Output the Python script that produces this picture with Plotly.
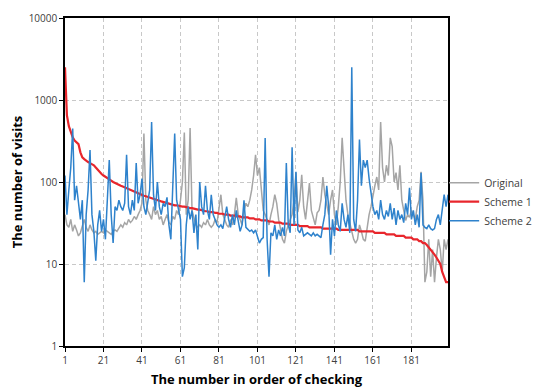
import plotly.graph_objects as go

x_vals = list(range(1, 201))

original = [
    40, 30, 28, 35, 25, 30, 26, 22, 24, 30,
    35, 28, 25, 30, 26, 24, 25, 23, 24, 25,
    24, 26, 25, 24, 23, 25, 26, 25, 27, 30,
    28, 32, 30, 35, 32, 34, 38, 35, 40, 45,
    55, 390, 60, 45, 40, 35, 50, 40, 45, 35,
    38, 30, 35, 40, 32, 30, 38, 35, 45, 40,
    60, 100, 400, 40, 60, 455, 45, 35, 30, 28,
    30, 28, 32, 30, 35, 30, 28, 30, 35, 32,
    45, 70, 40, 35, 30, 28, 35, 30, 40, 64,
    40, 35, 30, 45, 55, 50, 60, 80, 120, 215,
    120, 150, 80, 45, 40, 35, 30, 40, 50, 70,
    55, 35, 25, 20, 18, 25, 30, 35, 40, 60,
    130, 43, 60, 122, 50, 35, 60, 97, 45, 35,
    30, 42, 45, 60, 115, 70, 50, 40, 60, 80,
    40, 30, 50, 100, 345, 120, 60, 40, 30, 25,
    20, 18, 20, 30, 25, 20, 19, 30, 40, 50,
    70, 90, 115, 80, 540, 150, 100, 160, 120, 345,
    270, 100, 130, 80, 160, 60, 45, 34, 40, 37,
    45, 40, 35, 50, 60, 133, 60, 6, 8, 20,
    7, 15, 6, 12, 20, 15, 8, 20, 15, 20,
]

scheme1 = [
    2500, 650, 480, 400, 350, 320, 300, 290, 230, 200,
    190, 180, 175, 170, 165, 160, 150, 140, 130, 125,
    120, 115, 112, 108, 104, 100, 97, 95, 92, 90,
    88, 86, 84, 82, 80, 78, 76, 74, 72, 70,
    69, 68, 67, 66, 65, 63, 62, 61, 60, 59,
    58, 57, 56, 56, 55, 54, 53, 52, 52, 51,
    51, 50, 50, 49, 49, 48, 48, 47, 47, 46,
    46, 45, 45, 44, 44, 43, 43, 43, 42, 42,
    41, 41, 41, 40, 40, 40, 39, 39, 39, 38,
    38, 38, 37, 37, 37, 37, 36, 36, 36, 35,
    35, 35, 34, 34, 34, 34, 33, 33, 33, 32,
    32, 32, 32, 31, 31, 31, 31, 30, 30, 30,
    30, 30, 29, 29, 29, 29, 29, 28, 28, 28,
    28, 28, 28, 28, 27, 27, 27, 27, 27, 27,
    27, 27, 26, 26, 26, 26, 26, 26, 26, 26,
    26, 26, 26, 25, 25, 25, 25, 25, 25, 25,
    25, 24, 24, 24, 24, 24, 24, 23, 23, 23,
    23, 23, 22, 22, 22, 22, 22, 21, 21, 21,
    21, 20, 20, 20, 19, 19, 18, 18, 17, 16,
    15, 14, 13, 12, 11, 10, 8, 7, 6, 6,
]

scheme2 = [
    120, 40, 80, 150, 450, 60, 90, 55, 35, 60,
    6, 40, 80, 245, 40, 25, 11, 30, 45, 25,
    35, 20, 60, 185, 40, 18, 50, 45, 60, 50,
    45, 55, 215, 50, 40, 60, 45, 170, 55, 70,
    110, 50, 40, 60, 80, 540, 70, 45, 100, 50,
    40, 55, 50, 65, 30, 20, 80, 390, 60, 45,
    35, 7, 9, 30, 50, 35, 45, 24, 40, 15,
    100, 50, 40, 90, 45, 35, 70, 40, 35, 30,
    28, 30, 27, 35, 50, 35, 28, 40, 30, 45,
    35, 25, 30, 60, 28, 26, 25, 26, 24, 26,
    22, 18, 20, 21, 345, 20, 7, 24, 22, 30,
    20, 26, 22, 28, 22, 170, 30, 24, 265, 30,
    133, 26, 24, 28, 22, 23, 24, 23, 22, 24,
    22, 23, 22, 21, 30, 40, 90, 50, 13, 35,
    22, 45, 30, 25, 55, 35, 28, 40, 24, 2500,
    35, 25, 60, 330, 90, 185, 150, 185, 110, 73,
    50, 40, 45, 35, 60, 40, 35, 45, 38, 55,
    35, 48, 30, 45, 35, 40, 32, 55, 40, 85,
    35, 45, 30, 40, 28, 130, 30, 28, 27, 30,
    27, 26, 27, 35, 40, 30, 45, 70, 50, 70,
]

x_tick_vals = [1, 21, 41, 61, 81, 101, 121, 141, 161, 181]
y_tick_vals = [1, 10, 100, 1000, 10000]
y_tick_text = ["1", "10", "100", "1000", "10000"]

series_names = ["Original", "Scheme 1", "Scheme 2"]
series_colors = ["#A5A5A5", "#E8262C", "#2E82CC"]
series_widths = [1.5, 2.2, 1.5]
series_data = [original, scheme1, scheme2]

fig = go.Figure()
for name, color, w, data in zip(series_names, series_colors, series_widths, series_data):
    fig.add_trace(go.Scatter(x=x_vals, y=data, mode="lines", name=name,
                             line=dict(color=color, width=w)))

font_family = "Open Sans, Liberation Sans, sans-serif"

# page body has an 8px default margin: size the figure so it fits the window
fig.update_layout(
    width=536, height=381,
    margin=dict(l=57, r=96, t=10, b=43, autoexpand=False),
    paper_bgcolor="white", plot_bgcolor="white",
    font=dict(family=font_family, color="#404040", size=10),
    showlegend=True,
    legend=dict(x=0.99, y=0.44, xanchor="left", yanchor="middle",
                font=dict(size=10.5, color="#404040"),
                bgcolor="rgba(0,0,0,0)", itemwidth=30, tracegroupgap=4),
)

fig.update_xaxes(
    range=[1, 200], tickmode="array", tickvals=x_tick_vals,
    ticks="outside", ticklen=4, tickcolor="black",
    showline=True, linecolor="black", linewidth=1.5, mirror=True,
    showgrid=True, gridcolor="#C8C8C8", griddash="4px,3px", gridwidth=1,
    zeroline=False,
    tickfont=dict(size=10, color="#404040"),
    title=dict(text="<b>The number in order of checking</b>",
               font=dict(size=13, color="black"), standoff=9),
)
fig.update_yaxes(
    type="log", range=[0, 4], tickmode="array",
    tickvals=y_tick_vals, ticktext=y_tick_text,
    ticks="outside", ticklen=4, tickcolor="black",
    showline=True, linecolor="black", linewidth=1.5, mirror=True,
    showgrid=True, gridcolor="#C8C8C8", griddash="4px,3px", gridwidth=1,
    zeroline=False,
    tickfont=dict(size=10, color="#404040"),
    title=dict(text="<b>The number of visits</b>",
               font=dict(size=13, color="black"), standoff=6),
)

fig.write_html("out.html")
